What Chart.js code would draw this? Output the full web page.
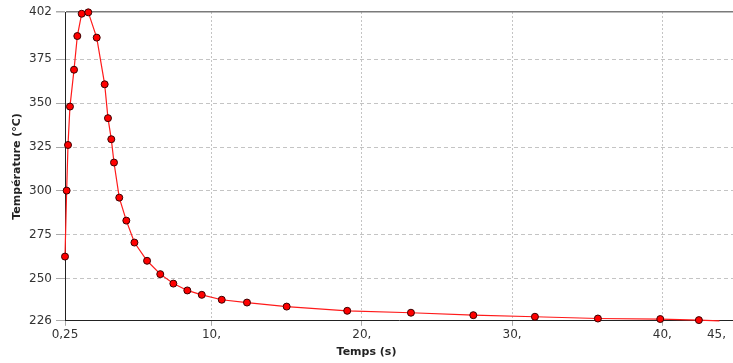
<!DOCTYPE html>
<html>
<head>
<meta charset="utf-8">
<script src="https://cdn.jsdelivr.net/npm/chart.js@4/dist/chart.umd.min.js"></script>
<style>
  html, body { margin: 0; padding: 0; background: #fff; overflow: hidden; }
  #wrap { position: relative; width: 733px; height: 363px; }
</style>
</head>
<body>
<div id="wrap"><canvas id="tempChart"></canvas></div>
<script>
// Temps (s) / Température (°C)
const timeValues = [0.25, 0.36, 0.45, 0.58, 0.85, 1.07, 1.36, 1.80, 2.36, 2.89, 3.11, 3.33, 3.51, 3.86, 4.33, 4.87,
    5.71, 6.59, 7.46, 8.39, 9.35, 10.68, 12.36, 15.0, 19.03, 23.27, 27.42, 31.52, 35.71, 39.86, 42.43, 43.8];
const tempValues = [262.6, 300.2, 326.2, 348.1, 369.1, 388.3, 401.0, 401.8, 387.4, 360.8, 341.5, 329.5, 316.2, 296.2, 283.1, 270.6,
    260.2, 252.6, 247.2, 243.3, 240.8, 238.0, 236.4, 234.1, 231.7, 230.6, 229.2, 228.3, 227.3, 227.0, 226.4, 226.0];

const xTickValues = [0.25, 10, 20, 30, 40, 43.6];
const xTickLabels = ["0,25", "10,", "20,", "30,", "40,", "45,"];
const yTickValues = [226, 250, 275, 300, 325, 350, 375, 402];

const points = timeValues.map((t, i) => ({ x: t, y: tempValues[i] }));
const lastIndex = points.length - 1;

new Chart(document.getElementById("tempChart"), {
    type: 'line',
    data: {
        datasets: [{
            label: 'Température',
            data: points,
            borderColor: '#ff1a1a',
            borderWidth: 1.2,
            tension: 0,
            pointBackgroundColor: '#ff0000',
            pointBorderColor: '#3a0000',
            pointBorderWidth: 1,
            pointRadius: ctx => ctx.dataIndex === lastIndex ? 0 : 3.5,
            clip: false
        }]
    },
    options: {
        responsive: true,
        maintainAspectRatio: false,
        animation: false,
        layout: { autoPadding: false, padding: { top: 12, left: 0, right: 0, bottom: 0 } },
        plugins: {
            legend: { display: false },
            tooltip: { enabled: false },
            title: {
                display: true,
                position: 'bottom',
                text: 'Temps (s)',
                color: '#222',
                font: { family: 'DejaVu Sans', size: 11, weight: 'bold' },
                padding: { top: 2, bottom: 4 }
            }
        },
        scales: {
            x: {
                type: 'linear',
                min: 0.25,
                max: 44.7,
                afterBuildTicks: scale => { scale.ticks = xTickValues.map(v => ({ value: v })); },
                afterFit: scale => {
                    scale.height = 23;
                    scale.paddingRight = 0;
                    scale.paddingLeft = 0;
                },
                ticks: {
                    autoSkip: false,
                    maxRotation: 0,
                    padding: 2,
                    color: '#333',
                    font: { family: 'DejaVu Sans', size: 12 },
                    callback: (value, index) => xTickLabels[index]
                },
                grid: {
                    color: ctx => (ctx.tick && (ctx.tick.value === 0.25 || ctx.tick.value === 43.6)) ? 'rgba(0,0,0,0)' : '#c4c4c4',
                    tickColor: ctx => (ctx.tick && ctx.tick.value === 43.6) ? 'rgba(0,0,0,0)' : '#aaa',
                    tickLength: 5,
                    lineWidth: 1
                },
                border: { display: true, color: '#222', width: 1, dash: [2, 2] }
            },
            y: {
                min: 226,
                max: 402,
                afterBuildTicks: scale => { scale.ticks = yTickValues.map(v => ({ value: v })); },
                afterFit: scale => { scale.width = 65; },
                ticks: {
                    autoSkip: false,
                    padding: 4,
                    color: '#333',
                    font: { family: 'DejaVu Sans', size: 12 },
                    callback: value => String(value)
                },
                title: {
                    display: true,
                    text: 'Température (°C)',
                    color: '#222',
                    font: { family: 'DejaVu Sans', size: 11, weight: 'bold' },
                    padding: { top: 11, bottom: 0 }
                },
                grid: {
                    color: ctx => (ctx.tick && ctx.tick.value === 402) ? '#7a7a7a' : '#c4c4c4',
                    tickColor: '#aaa',
                    tickLength: 9,
                    lineWidth: ctx => (ctx.tick && ctx.tick.value === 402) ? 1.5 : 1
                },
                border: {
                    display: true,
                    color: '#222',
                    width: 1,
                    dash: ctx => (ctx.tick && ctx.tick.value === 402) ? [] : [4, 3]
                }
            }
        }
    }
});
</script>
</body>
</html>
